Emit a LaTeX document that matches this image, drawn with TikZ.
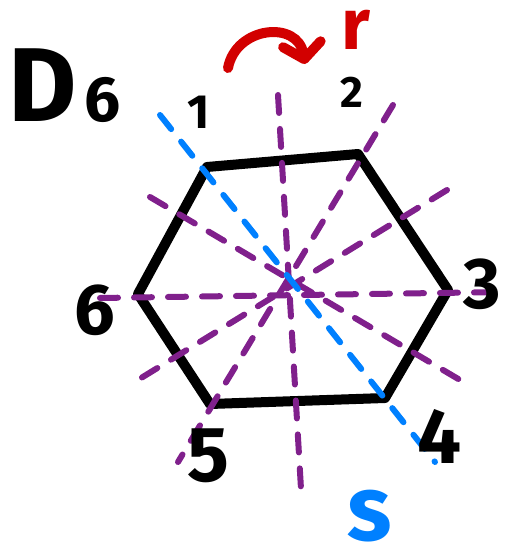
\documentclass[tikz,border=0pt]{standalone}
\usepackage{fontspec}
\setmainfont{Fira Sans}
\usetikzlibrary{arrows.meta}
\definecolor{AxisPurple}{RGB}{128,32,140}
\definecolor{FlipBlue}{RGB}{0,128,255}
\definecolor{RotRed}{RGB}{210,0,0}

\begin{document}
\begin{tikzpicture}[
  x=1pt, y=-1pt,
  edge/.style={line width=10pt, line join=round, line cap=round, draw=black},
  axis/.style={line width=6pt, line cap=round, draw=AxisPurple,
               dash pattern=on 18pt off 16pt},
  flipaxis/.style={axis, draw=FlipBlue},
  rot/.style={-{Straight Barb[length=15pt, width=38pt, round]},
              line width=10pt, line cap=round, draw=RotRed},
  vlabel/.style={font=\fontsize{#1}{#1}\selectfont\bfseries, inner sep=0pt}
]
\useasboundingbox (0,0) rectangle (508,553);

% Hexagon corners.
\coordinate (v1) at (207,167);
\coordinate (v2) at (358,154);
\coordinate (v3) at (448,290);
\coordinate (v4) at (385,398);
\coordinate (v5) at (210,404);
\coordinate (v6) at (138,294);
\draw[edge] (v1) -- (v2) -- (v3) -- (v4) -- (v5) -- (v6) -- cycle;

% Reflection axes.
\coordinate (ax12) at (278,95);   \coordinate (ax45) at (301,489);
\coordinate (ax2)  at (393,105);  \coordinate (ax5)  at (178,462);
\coordinate (ax6)  at (100,298);  \coordinate (ax3)  at (505,292);
\coordinate (ax23) at (447,190);  \coordinate (ax56) at (133,383);
\coordinate (ax61) at (150,197);  \coordinate (ax34) at (460,380);
\draw[axis] (ax12) -- (ax45);
\draw[axis] (ax2) -- (ax5);
\draw[axis] (ax6) -- (ax3);
\draw[axis] (ax23) -- (ax56);
\draw[axis] (ax61) -- (ax34);

% The flip s, through corners 1 and 4.
\coordinate (fl1) at (160,115);
\coordinate (fl4) at (435,462);
\draw[flipaxis] (fl1) -- (fl4);

% The rotation r.
\coordinate (rotstart) at (228,68);
\coordinate (rotend) at (305,64);
\draw[rot] (rotstart) .. controls (236,26) and (298,20) .. (rotend);

% Labels.
\node[vlabel=105, anchor=base west] (title) at (8,122)
  {D\hspace{8pt}{\fontsize{64}{64}\selectfont 6}};
\node[vlabel=48] (lab1) at (199,112) {1};
\node[vlabel=44] (lab2) at (352,92) {2};
\node[vlabel=72] (lab3) at (482,284) {3};
\node[vlabel=78] (lab4) at (440,436) {4};
\node[vlabel=78] (lab5) at (208,456) {5};
\node[vlabel=72] (lab6) at (95,310) {6};
\node[vlabel=72, text=RotRed] (labr) at (356,30) {r};
\node[vlabel=92, text=FlipBlue] (labs) at (370,516) {s};

\end{tikzpicture}
\end{document}
